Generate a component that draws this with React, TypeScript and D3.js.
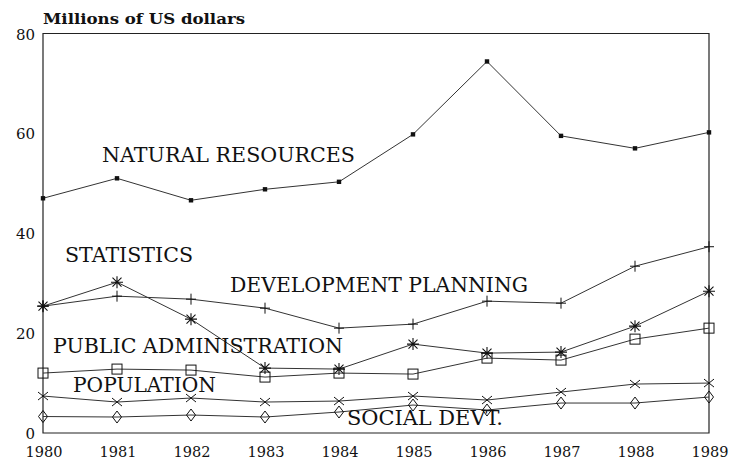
import React from "react";
import * as d3 from "d3";

const years = [1980, 1981, 1982, 1983, 1984, 1985, 1986, 1987, 1988, 1989];
const naturalResources = [47, 51, 46.6, 48.8, 50.3, 59.8, 74.4, 59.5, 57, 60.2];
const devPlanning = [25.4, 27.4, 26.8, 25, 21, 21.8, 26.4, 26, 33.4, 37.3];
const statistics = [25.4, 30.2, 22.8, 13, 12.8, 17.8, 16, 16.2, 21.4, 28.4];
const publicAdmin = [12, 12.8, 12.6, 11.2, 12, 11.8, 15, 14.6, 18.8, 21];
const population = [7.4, 6.2, 7, 6.2, 6.4, 7.4, 6.6, 8.2, 9.8, 10];
const socialDevt = [3.3, 3.2, 3.6, 3.2, 4.2, 5.6, 4.6, 6, 6, 7.2];
const yTicks = [0, 20, 40, 60, 80];
const seriesNames = [
  "NATURAL RESOURCES",
  "DEVELOPMENT PLANNING",
  "STATISTICS",
  "PUBLIC ADMINISTRATION",
  "POPULATION",
  "SOCIAL DEVT.",
];
const yTitle = "Millions of US dollars";

const W = 735;
const H = 459;
const left = 43;
const right = 709;
const top = 33.5;
const bottom = 433;

type Marker = "dot" | "plus" | "star" | "square" | "cross" | "diamond";

const series: { values: number[]; marker: Marker }[] = [
  { values: naturalResources, marker: "dot" },
  { values: devPlanning, marker: "plus" },
  { values: statistics, marker: "star" },
  { values: publicAdmin, marker: "square" },
  { values: population, marker: "cross" },
  { values: socialDevt, marker: "diamond" },
];

// label layout (pixels): x start, baseline, width
const labelLayout = [
  { x: 102, y: 162, w: 253 },
  { x: 230, y: 292, w: 298 },
  { x: 65, y: 262, w: 128 },
  { x: 53, y: 353, w: 290 },
  { x: 73, y: 392, w: 143 },
  { x: 347, y: 425, w: 156 },
];

function MarkerShape({ kind, cx, cy }: { kind: Marker; cx: number; cy: number }) {
  const s = "#111";
  switch (kind) {
    case "dot":
      return <rect x={cx - 2.2} y={cy - 2.2} width={4.4} height={4.4} fill={s} />;
    case "plus":
      return (
        <path d={`M${cx - 5},${cy}H${cx + 5}M${cx},${cy - 5.5}V${cy + 5.5}`} stroke={s} strokeWidth={1} fill="none" />
      );
    case "star":
      return (
        <path
          d={`M${cx - 6},${cy}H${cx + 6}M${cx},${cy - 6}V${cy + 6}M${cx - 4.5},${cy - 4.5}L${cx + 4.5},${cy + 4.5}M${cx - 4.5},${cy + 4.5}L${cx + 4.5},${cy - 4.5}`}
          stroke={s}
          strokeWidth={1.1}
          fill="none"
        />
      );
    case "square":
      return <rect x={cx - 5} y={cy - 5} width={10} height={10} stroke={s} strokeWidth={1} fill="none" />;
    case "cross":
      return (
        <path d={`M${cx - 5},${cy - 4}L${cx + 5},${cy + 4}M${cx - 5},${cy + 4}L${cx + 5},${cy - 4}`} stroke={s} strokeWidth={1} fill="none" />
      );
    case "diamond":
      return (
        <path d={`M${cx},${cy - 6}L${cx + 4.5},${cy}L${cx},${cy + 6}L${cx - 4.5},${cy}Z`} stroke={s} strokeWidth={1} fill="none" />
      );
  }
}

export default function App() {
  const x = d3.scaleLinear().domain([1980, 1989]).range([left, right]);
  const y = d3.scaleLinear().domain([0, 80]).range([bottom, top]);
  const line = d3
    .line<number>()
    .x((_, i) => x(years[i]))
    .y((d) => y(d));

  const serif = "'DejaVu Serif', 'Liberation Serif', serif";

  return (
    <svg
      width={W}
      height={H}
      style={{ position: "absolute", left: 0, top: 0, background: "#fff" }}
      viewBox={`0 0 ${W} ${H}`}
    >
      <rect width={W} height={H} fill="#fff" />
      {/* frame */}
      <path
        d={`M${left},${top}H${right}V${bottom}H${left}Z`}
        fill="none"
        stroke="#222"
        strokeWidth={1.2}
      />
      {/* title */}
      <text
        x={43}
        y={24}
        fontFamily={serif}
        fontWeight="bold"
        fontSize={14}
        textLength={202}
        lengthAdjust="spacingAndGlyphs"
        fill="#111"
      >
        {yTitle}
      </text>
      {/* y ticks */}
      {yTicks.map((t) => (
        <text
          key={t}
          x={35}
          y={y(t) + 6}
          textAnchor="end"
          fontFamily={serif}
          fontSize={15}
          fill="#111"
        >
          {t}
        </text>
      ))}
      {/* x ticks */}
      {years.map((yr) => (
        <text
          key={yr}
          x={x(yr) + 1}
          y={457}
          textAnchor="middle"
          fontFamily={serif}
          fontSize={14.5}
          fill="#111"
        >
          {yr}
        </text>
      ))}
      {/* lines */}
      {series.map((s, i) => (
        <g key={i}>
          <path d={line(s.values) || ""} fill="none" stroke="#333" strokeWidth={1} />
          {s.values.map((v, j) => (
            <MarkerShape key={j} kind={s.marker} cx={x(years[j])} cy={y(v)} />
          ))}
        </g>
      ))}
      {/* series labels */}
      {seriesNames.map((n, i) => (
        <text
          key={n}
          x={labelLayout[i].x}
          y={labelLayout[i].y}
          fontFamily={serif}
          fontSize={20}
          textLength={labelLayout[i].w}
          lengthAdjust="spacingAndGlyphs"
          fill="#111"
        >
          {n}
        </text>
      ))}
    </svg>
  );
}
